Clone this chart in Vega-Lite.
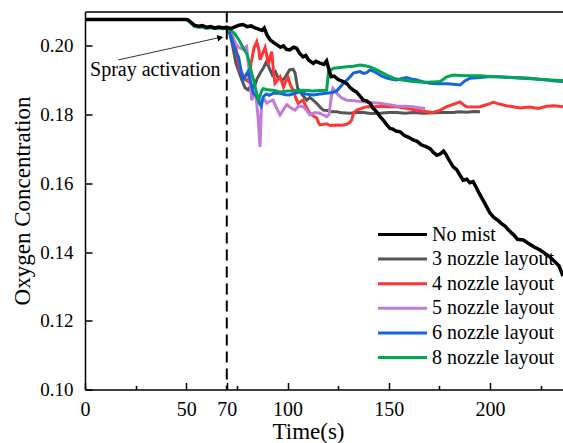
{
"$schema": "https://vega.github.io/schema/vega-lite/v6.json",
"width": 478, "height": 378,
"autosize": {"type": "none"},
"padding": {"left": 85, "top": 11.5, "right": 0, "bottom": 53.5},
"background": "white",
"config": {
 "view": {"stroke": null},
 "font": "Times New Roman, Liberation Serif, serif",
 "axis": {"domainColor": "black", "domainWidth": 1.5, "tickColor": "black", "tickWidth": 1.5, "labelColor": "black", "titleColor": "black", "labelFont": "Times New Roman, Liberation Serif, serif", "titleFont": "Times New Roman, Liberation Serif, serif", "grid": false, "titleFontWeight": "normal", "labelFontWeight": "normal"},
 "legend": {"labelFont": "Times New Roman, Liberation Serif, serif", "labelFontWeight": "normal"}
},
"data": {"values": [
{"s":"No mist","t":0,"o":0.2077},{"s":"No mist","t":50,"o":0.2077},{"s":"No mist","t":51,"o":0.2075},{"s":"No mist","t":52.5,"o":0.2068},{"s":"No mist","t":54,"o":0.206},{"s":"No mist","t":56,"o":0.2057},{"s":"No mist","t":58,"o":0.2059},{"s":"No mist","t":60,"o":0.2054},{"s":"No mist","t":62,"o":0.2056},{"s":"No mist","t":64,"o":0.2052},{"s":"No mist","t":66,"o":0.2055},{"s":"No mist","t":68,"o":0.2053},{"s":"No mist","t":70,"o":0.2054},{"s":"No mist","t":72,"o":0.205},{"s":"No mist","t":74,"o":0.2055},{"s":"No mist","t":76,"o":0.206},{"s":"No mist","t":78,"o":0.2062},{"s":"No mist","t":80,"o":0.2056},{"s":"No mist","t":82,"o":0.2058},{"s":"No mist","t":84,"o":0.2052},{"s":"No mist","t":86,"o":0.2048},{"s":"No mist","t":87.5,"o":0.2045},{"s":"No mist","t":88.5,"o":0.2052},{"s":"No mist","t":90,"o":0.203},{"s":"No mist","t":91.5,"o":0.2017},{"s":"No mist","t":93,"o":0.201},{"s":"No mist","t":95,"o":0.2002},{"s":"No mist","t":96.5,"o":0.1996},{"s":"No mist","t":98,"o":0.2},{"s":"No mist","t":99.5,"o":0.199},{"s":"No mist","t":101,"o":0.1988},{"s":"No mist","t":103,"o":0.1996},{"s":"No mist","t":104.5,"o":0.1993},{"s":"No mist","t":106,"o":0.1978},{"s":"No mist","t":107.7,"o":0.1968},{"s":"No mist","t":109,"o":0.1972},{"s":"No mist","t":110.5,"o":0.1958},{"s":"No mist","t":112.7,"o":0.1949},{"s":"No mist","t":114,"o":0.1955},{"s":"No mist","t":116,"o":0.195},{"s":"No mist","t":118,"o":0.1946},{"s":"No mist","t":119.3,"o":0.1956},{"s":"No mist","t":120.5,"o":0.193},{"s":"No mist","t":121.5,"o":0.191},{"s":"No mist","t":123,"o":0.1912},{"s":"No mist","t":125,"o":0.1902},{"s":"No mist","t":127.5,"o":0.1896},{"s":"No mist","t":129.5,"o":0.1889},{"s":"No mist","t":131,"o":0.1878},{"s":"No mist","t":132.5,"o":0.1871},{"s":"No mist","t":134,"o":0.1866},{"s":"No mist","t":136,"o":0.1852},{"s":"No mist","t":137.4,"o":0.1842},{"s":"No mist","t":139,"o":0.184},{"s":"No mist","t":140.7,"o":0.1833},{"s":"No mist","t":142,"o":0.182},{"s":"No mist","t":144,"o":0.1808},{"s":"No mist","t":145.7,"o":0.1794},{"s":"No mist","t":147.5,"o":0.1782},{"s":"No mist","t":149,"o":0.177},{"s":"No mist","t":150.6,"o":0.176},{"s":"No mist","t":152,"o":0.1758},{"s":"No mist","t":153.5,"o":0.1752},{"s":"No mist","t":155.6,"o":0.175},{"s":"No mist","t":157.5,"o":0.174},{"s":"No mist","t":160,"o":0.1733},{"s":"No mist","t":162,"o":0.1726},{"s":"No mist","t":164,"o":0.1722},{"s":"No mist","t":166,"o":0.1712},{"s":"No mist","t":168.7,"o":0.1706},{"s":"No mist","t":170.5,"o":0.17},{"s":"No mist","t":172,"o":0.169},{"s":"No mist","t":173.7,"o":0.1682},{"s":"No mist","t":175.5,"o":0.1686},{"s":"No mist","t":177,"o":0.1694},{"s":"No mist","t":178,"o":0.1686},{"s":"No mist","t":180,"o":0.1665},{"s":"No mist","t":181.8,"o":0.1648},{"s":"No mist","t":183.5,"o":0.164},{"s":"No mist","t":185,"o":0.1625},{"s":"No mist","t":186.7,"o":0.1609},{"s":"No mist","t":188.5,"o":0.1612},{"s":"No mist","t":190,"o":0.1602},{"s":"No mist","t":191.6,"o":0.1605},{"s":"No mist","t":193,"o":0.159},{"s":"No mist","t":194.5,"o":0.1572},{"s":"No mist","t":196.5,"o":0.1551},{"s":"No mist","t":198,"o":0.1535},{"s":"No mist","t":200,"o":0.1513},{"s":"No mist","t":202,"o":0.15},{"s":"No mist","t":204,"o":0.1492},{"s":"No mist","t":205.5,"o":0.1483},{"s":"No mist","t":207.5,"o":0.1475},{"s":"No mist","t":209,"o":0.1465},{"s":"No mist","t":210.7,"o":0.1455},{"s":"No mist","t":212,"o":0.1448},{"s":"No mist","t":213.5,"o":0.1437},{"s":"No mist","t":216.4,"o":0.1435},{"s":"No mist","t":219,"o":0.1425},{"s":"No mist","t":222,"o":0.1414},{"s":"No mist","t":224.7,"o":0.1406},{"s":"No mist","t":227,"o":0.1396},{"s":"No mist","t":229.6,"o":0.1385},{"s":"No mist","t":232,"o":0.1372},{"s":"No mist","t":234,"o":0.136},{"s":"No mist","t":235,"o":0.1345},{"s":"No mist","t":236,"o":0.133},
{"s":"3 nozzle layout","t":70,"o":0.2054},{"s":"3 nozzle layout","t":71.5,"o":0.2035},{"s":"3 nozzle layout","t":73,"o":0.1997},{"s":"3 nozzle layout","t":74.5,"o":0.195},{"s":"3 nozzle layout","t":76,"o":0.1925},{"s":"3 nozzle layout","t":77.5,"o":0.19},{"s":"3 nozzle layout","t":79,"o":0.1878},{"s":"3 nozzle layout","t":80.5,"o":0.1872},{"s":"3 nozzle layout","t":82,"o":0.1885},{"s":"3 nozzle layout","t":83.5,"o":0.188},{"s":"3 nozzle layout","t":85,"o":0.1905},{"s":"3 nozzle layout","t":86.5,"o":0.1921},{"s":"3 nozzle layout","t":88,"o":0.1935},{"s":"3 nozzle layout","t":89.7,"o":0.1955},{"s":"3 nozzle layout","t":91,"o":0.1935},{"s":"3 nozzle layout","t":92.5,"o":0.1915},{"s":"3 nozzle layout","t":94,"o":0.1925},{"s":"3 nozzle layout","t":95.5,"o":0.1905},{"s":"3 nozzle layout","t":97.9,"o":0.1901},{"s":"3 nozzle layout","t":99.5,"o":0.1915},{"s":"3 nozzle layout","t":101,"o":0.193},{"s":"3 nozzle layout","t":102.7,"o":0.1932},{"s":"3 nozzle layout","t":103.7,"o":0.1922},{"s":"3 nozzle layout","t":105,"o":0.1877},{"s":"3 nozzle layout","t":107,"o":0.186},{"s":"3 nozzle layout","t":109.5,"o":0.1842},{"s":"3 nozzle layout","t":111,"o":0.185},{"s":"3 nozzle layout","t":112,"o":0.1845},{"s":"3 nozzle layout","t":114.4,"o":0.1833},{"s":"3 nozzle layout","t":116,"o":0.1822},{"s":"3 nozzle layout","t":117.6,"o":0.1813},{"s":"3 nozzle layout","t":120,"o":0.1812},{"s":"3 nozzle layout","t":122,"o":0.1808},{"s":"3 nozzle layout","t":124.3,"o":0.1808},{"s":"3 nozzle layout","t":127,"o":0.1805},{"s":"3 nozzle layout","t":130.9,"o":0.1804},{"s":"3 nozzle layout","t":134,"o":0.1806},{"s":"3 nozzle layout","t":137.4,"o":0.1806},{"s":"3 nozzle layout","t":141,"o":0.1803},{"s":"3 nozzle layout","t":145.7,"o":0.1804},{"s":"3 nozzle layout","t":150,"o":0.1806},{"s":"3 nozzle layout","t":153.9,"o":0.1806},{"s":"3 nozzle layout","t":158,"o":0.1804},{"s":"3 nozzle layout","t":162,"o":0.1806},{"s":"3 nozzle layout","t":167,"o":0.1804},{"s":"3 nozzle layout","t":171.9,"o":0.1805},{"s":"3 nozzle layout","t":176,"o":0.1806},{"s":"3 nozzle layout","t":181.8,"o":0.1806},{"s":"3 nozzle layout","t":185,"o":0.1808},{"s":"3 nozzle layout","t":188.5,"o":0.1807},{"s":"3 nozzle layout","t":192,"o":0.1809},{"s":"3 nozzle layout","t":195,"o":0.1808},
{"s":"4 nozzle layout","t":70,"o":0.2054},{"s":"4 nozzle layout","t":72,"o":0.204},{"s":"4 nozzle layout","t":74,"o":0.201},{"s":"4 nozzle layout","t":75.5,"o":0.196},{"s":"4 nozzle layout","t":76.5,"o":0.193},{"s":"4 nozzle layout","t":78,"o":0.1915},{"s":"4 nozzle layout","t":79.5,"o":0.19},{"s":"4 nozzle layout","t":80.6,"o":0.1896},{"s":"4 nozzle layout","t":82,"o":0.195},{"s":"4 nozzle layout","t":83.5,"o":0.1995},{"s":"4 nozzle layout","t":84.8,"o":0.2012},{"s":"4 nozzle layout","t":85.8,"o":0.199},{"s":"4 nozzle layout","t":86.4,"o":0.1959},{"s":"4 nozzle layout","t":87.5,"o":0.1975},{"s":"4 nozzle layout","t":88.9,"o":0.1995},{"s":"4 nozzle layout","t":90,"o":0.1965},{"s":"4 nozzle layout","t":90.5,"o":0.1945},{"s":"4 nozzle layout","t":91.5,"o":0.197},{"s":"4 nozzle layout","t":92.2,"o":0.1983},{"s":"4 nozzle layout","t":93,"o":0.193},{"s":"4 nozzle layout","t":93.8,"o":0.1891},{"s":"4 nozzle layout","t":95,"o":0.19},{"s":"4 nozzle layout","t":96.3,"o":0.191},{"s":"4 nozzle layout","t":97.2,"o":0.1895},{"s":"4 nozzle layout","t":98,"o":0.188},{"s":"4 nozzle layout","t":99,"o":0.1895},{"s":"4 nozzle layout","t":100.3,"o":0.1907},{"s":"4 nozzle layout","t":101.5,"o":0.1885},{"s":"4 nozzle layout","t":102.8,"o":0.1871},{"s":"4 nozzle layout","t":104,"o":0.185},{"s":"4 nozzle layout","t":105.2,"o":0.1833},{"s":"4 nozzle layout","t":106.5,"o":0.1838},{"s":"4 nozzle layout","t":107.7,"o":0.1842},{"s":"4 nozzle layout","t":109,"o":0.1825},{"s":"4 nozzle layout","t":111,"o":0.1804},{"s":"4 nozzle layout","t":113,"o":0.1795},{"s":"4 nozzle layout","t":114.4,"o":0.179},{"s":"4 nozzle layout","t":115.2,"o":0.1778},{"s":"4 nozzle layout","t":116,"o":0.177},{"s":"4 nozzle layout","t":118,"o":0.1772},{"s":"4 nozzle layout","t":119.3,"o":0.1773},{"s":"4 nozzle layout","t":121,"o":0.1768},{"s":"4 nozzle layout","t":124.3,"o":0.177},{"s":"4 nozzle layout","t":127,"o":0.1769},{"s":"4 nozzle layout","t":129.2,"o":0.1772},{"s":"4 nozzle layout","t":130.5,"o":0.1776},{"s":"4 nozzle layout","t":131.7,"o":0.1784},{"s":"4 nozzle layout","t":132.5,"o":0.1804},{"s":"4 nozzle layout","t":134.2,"o":0.1813},{"s":"4 nozzle layout","t":136.5,"o":0.1818},{"s":"4 nozzle layout","t":139.1,"o":0.1823},{"s":"4 nozzle layout","t":142,"o":0.1822},{"s":"4 nozzle layout","t":145.7,"o":0.1824},{"s":"4 nozzle layout","t":150,"o":0.1823},{"s":"4 nozzle layout","t":153.9,"o":0.1823},{"s":"4 nozzle layout","t":158,"o":0.1819},{"s":"4 nozzle layout","t":162,"o":0.1815},{"s":"4 nozzle layout","t":167,"o":0.181},{"s":"4 nozzle layout","t":171.9,"o":0.1806},{"s":"4 nozzle layout","t":175,"o":0.1812},{"s":"4 nozzle layout","t":178.6,"o":0.1823},{"s":"4 nozzle layout","t":182,"o":0.183},{"s":"4 nozzle layout","t":185.2,"o":0.1837},{"s":"4 nozzle layout","t":187,"o":0.1828},{"s":"4 nozzle layout","t":188.5,"o":0.1823},{"s":"4 nozzle layout","t":192,"o":0.1822},{"s":"4 nozzle layout","t":195,"o":0.1823},{"s":"4 nozzle layout","t":199,"o":0.183},{"s":"4 nozzle layout","t":201.6,"o":0.1836},{"s":"4 nozzle layout","t":204,"o":0.1832},{"s":"4 nozzle layout","t":208,"o":0.1826},{"s":"4 nozzle layout","t":211.5,"o":0.1823},{"s":"4 nozzle layout","t":214.8,"o":0.1819},{"s":"4 nozzle layout","t":219.7,"o":0.1822},{"s":"4 nozzle layout","t":223.7,"o":0.1818},{"s":"4 nozzle layout","t":228,"o":0.1824},{"s":"4 nozzle layout","t":231,"o":0.1826},{"s":"4 nozzle layout","t":233,"o":0.1825},{"s":"4 nozzle layout","t":236,"o":0.1823},
{"s":"5 nozzle layout","t":70,"o":0.2054},{"s":"5 nozzle layout","t":72,"o":0.2035},{"s":"5 nozzle layout","t":74,"o":0.201},{"s":"5 nozzle layout","t":76,"o":0.1995},{"s":"5 nozzle layout","t":78,"o":0.199},{"s":"5 nozzle layout","t":79.8,"o":0.1998},{"s":"5 nozzle layout","t":81,"o":0.193},{"s":"5 nozzle layout","t":82.3,"o":0.1842},{"s":"5 nozzle layout","t":83.5,"o":0.186},{"s":"5 nozzle layout","t":84.5,"o":0.185},{"s":"5 nozzle layout","t":85.5,"o":0.179},{"s":"5 nozzle layout","t":86.4,"o":0.1706},{"s":"5 nozzle layout","t":87.2,"o":0.1842},{"s":"5 nozzle layout","t":88.5,"o":0.1845},{"s":"5 nozzle layout","t":89.7,"o":0.1833},{"s":"5 nozzle layout","t":91,"o":0.1838},{"s":"5 nozzle layout","t":92.9,"o":0.1842},{"s":"5 nozzle layout","t":94.5,"o":0.182},{"s":"5 nozzle layout","t":96.3,"o":0.1799},{"s":"5 nozzle layout","t":98,"o":0.1815},{"s":"5 nozzle layout","t":99.6,"o":0.1829},{"s":"5 nozzle layout","t":101.5,"o":0.182},{"s":"5 nozzle layout","t":103.7,"o":0.1813},{"s":"5 nozzle layout","t":105.5,"o":0.1825},{"s":"5 nozzle layout","t":107.7,"o":0.1823},{"s":"5 nozzle layout","t":109.5,"o":0.1812},{"s":"5 nozzle layout","t":111,"o":0.1799},{"s":"5 nozzle layout","t":113.5,"o":0.1806},{"s":"5 nozzle layout","t":116,"o":0.1804},{"s":"5 nozzle layout","t":118,"o":0.1798},{"s":"5 nozzle layout","t":119.3,"o":0.1794},{"s":"5 nozzle layout","t":120.5,"o":0.18},{"s":"5 nozzle layout","t":121.6,"o":0.1852},{"s":"5 nozzle layout","t":122.4,"o":0.1876},{"s":"5 nozzle layout","t":123.5,"o":0.1868},{"s":"5 nozzle layout","t":125,"o":0.1857},{"s":"5 nozzle layout","t":127,"o":0.1848},{"s":"5 nozzle layout","t":129.2,"o":0.1842},{"s":"5 nozzle layout","t":133,"o":0.184},{"s":"5 nozzle layout","t":137.4,"o":0.1837},{"s":"5 nozzle layout","t":141,"o":0.1835},{"s":"5 nozzle layout","t":145.7,"o":0.1833},{"s":"5 nozzle layout","t":150,"o":0.1829},{"s":"5 nozzle layout","t":153.9,"o":0.1825},{"s":"5 nozzle layout","t":158,"o":0.1824},{"s":"5 nozzle layout","t":162,"o":0.1823},{"s":"5 nozzle layout","t":165,"o":0.182},{"s":"5 nozzle layout","t":167.9,"o":0.1818},
{"s":"6 nozzle layout","t":70,"o":0.2054},{"s":"6 nozzle layout","t":72,"o":0.203},{"s":"6 nozzle layout","t":74,"o":0.199},{"s":"6 nozzle layout","t":75.8,"o":0.1968},{"s":"6 nozzle layout","t":77,"o":0.193},{"s":"6 nozzle layout","t":78.2,"o":0.1901},{"s":"6 nozzle layout","t":79.5,"o":0.1915},{"s":"6 nozzle layout","t":80.5,"o":0.1925},{"s":"6 nozzle layout","t":82,"o":0.189},{"s":"6 nozzle layout","t":83.1,"o":0.1862},{"s":"6 nozzle layout","t":84.5,"o":0.1855},{"s":"6 nozzle layout","t":86,"o":0.1835},{"s":"6 nozzle layout","t":87,"o":0.1825},{"s":"6 nozzle layout","t":88,"o":0.1852},{"s":"6 nozzle layout","t":89.5,"o":0.186},{"s":"6 nozzle layout","t":91,"o":0.1856},{"s":"6 nozzle layout","t":93,"o":0.1862},{"s":"6 nozzle layout","t":96.3,"o":0.1862},{"s":"6 nozzle layout","t":99,"o":0.1858},{"s":"6 nozzle layout","t":101,"o":0.1857},{"s":"6 nozzle layout","t":103.5,"o":0.1862},{"s":"6 nozzle layout","t":106,"o":0.1866},{"s":"6 nozzle layout","t":109,"o":0.186},{"s":"6 nozzle layout","t":112.7,"o":0.1857},{"s":"6 nozzle layout","t":116,"o":0.186},{"s":"6 nozzle layout","t":119.3,"o":0.1862},{"s":"6 nozzle layout","t":122,"o":0.1864},{"s":"6 nozzle layout","t":124.3,"o":0.1869},{"s":"6 nozzle layout","t":126,"o":0.188},{"s":"6 nozzle layout","t":127.6,"o":0.1891},{"s":"6 nozzle layout","t":129.3,"o":0.19},{"s":"6 nozzle layout","t":130.9,"o":0.191},{"s":"6 nozzle layout","t":132.5,"o":0.1921},{"s":"6 nozzle layout","t":134,"o":0.1923},{"s":"6 nozzle layout","t":135.8,"o":0.1925},{"s":"6 nozzle layout","t":137.5,"o":0.192},{"s":"6 nozzle layout","t":139.1,"o":0.1922},{"s":"6 nozzle layout","t":140.7,"o":0.193},{"s":"6 nozzle layout","t":142.5,"o":0.1926},{"s":"6 nozzle layout","t":144,"o":0.1921},{"s":"6 nozzle layout","t":146.5,"o":0.1912},{"s":"6 nozzle layout","t":149,"o":0.1906},{"s":"6 nozzle layout","t":151.5,"o":0.1903},{"s":"6 nozzle layout","t":153.9,"o":0.1901},{"s":"6 nozzle layout","t":156.5,"o":0.1905},{"s":"6 nozzle layout","t":158.8,"o":0.1908},{"s":"6 nozzle layout","t":161,"o":0.1904},{"s":"6 nozzle layout","t":163.8,"o":0.1901},{"s":"6 nozzle layout","t":167,"o":0.1895},{"s":"6 nozzle layout","t":170.4,"o":0.1891},{"s":"6 nozzle layout","t":174.5,"o":0.189},{"s":"6 nozzle layout","t":178.6,"o":0.189},{"s":"6 nozzle layout","t":182,"o":0.1888},{"s":"6 nozzle layout","t":185.2,"o":0.1886},{"s":"6 nozzle layout","t":187.5,"o":0.1898},{"s":"6 nozzle layout","t":190.1,"o":0.1906},{"s":"6 nozzle layout","t":195,"o":0.1908},{"s":"6 nozzle layout","t":199,"o":0.191},{"s":"6 nozzle layout","t":203.3,"o":0.191},{"s":"6 nozzle layout","t":207.5,"o":0.1909},{"s":"6 nozzle layout","t":211.5,"o":0.1908},{"s":"6 nozzle layout","t":215.5,"o":0.1907},{"s":"6 nozzle layout","t":219.7,"o":0.1906},{"s":"6 nozzle layout","t":224,"o":0.1903},{"s":"6 nozzle layout","t":228,"o":0.1901},{"s":"6 nozzle layout","t":232,"o":0.1898},{"s":"6 nozzle layout","t":236,"o":0.1896},
{"s":"8 nozzle layout","t":0,"o":0.2077},{"s":"8 nozzle layout","t":50,"o":0.2077},{"s":"8 nozzle layout","t":51,"o":0.2073},{"s":"8 nozzle layout","t":52.5,"o":0.2065},{"s":"8 nozzle layout","t":54,"o":0.2057},{"s":"8 nozzle layout","t":56,"o":0.2054},{"s":"8 nozzle layout","t":58,"o":0.2055},{"s":"8 nozzle layout","t":60,"o":0.2051},{"s":"8 nozzle layout","t":62,"o":0.2053},{"s":"8 nozzle layout","t":64,"o":0.205},{"s":"8 nozzle layout","t":66,"o":0.2051},{"s":"8 nozzle layout","t":68,"o":0.205},{"s":"8 nozzle layout","t":70,"o":0.205},{"s":"8 nozzle layout","t":72,"o":0.2045},{"s":"8 nozzle layout","t":74,"o":0.2035},{"s":"8 nozzle layout","t":76,"o":0.2017},{"s":"8 nozzle layout","t":78,"o":0.1995},{"s":"8 nozzle layout","t":79.8,"o":0.1978},{"s":"8 nozzle layout","t":81,"o":0.1955},{"s":"8 nozzle layout","t":82.3,"o":0.192},{"s":"8 nozzle layout","t":83.5,"o":0.1895},{"s":"8 nozzle layout","t":84.8,"o":0.186},{"s":"8 nozzle layout","t":85.6,"o":0.1842},{"s":"8 nozzle layout","t":86.4,"o":0.1855},{"s":"8 nozzle layout","t":87.2,"o":0.1868},{"s":"8 nozzle layout","t":88,"o":0.1876},{"s":"8 nozzle layout","t":90,"o":0.1872},{"s":"8 nozzle layout","t":92.9,"o":0.1871},{"s":"8 nozzle layout","t":96.3,"o":0.1866},{"s":"8 nozzle layout","t":99,"o":0.1868},{"s":"8 nozzle layout","t":101,"o":0.1869},{"s":"8 nozzle layout","t":104,"o":0.187},{"s":"8 nozzle layout","t":107.7,"o":0.1871},{"s":"8 nozzle layout","t":110,"o":0.187},{"s":"8 nozzle layout","t":112.7,"o":0.1869},{"s":"8 nozzle layout","t":116,"o":0.187},{"s":"8 nozzle layout","t":119.3,"o":0.1871},{"s":"8 nozzle layout","t":119.8,"o":0.19},{"s":"8 nozzle layout","t":120.2,"o":0.1925},{"s":"8 nozzle layout","t":122.7,"o":0.1935},{"s":"8 nozzle layout","t":126,"o":0.1937},{"s":"8 nozzle layout","t":129.2,"o":0.1939},{"s":"8 nozzle layout","t":132.5,"o":0.1941},{"s":"8 nozzle layout","t":135.8,"o":0.1944},{"s":"8 nozzle layout","t":138.3,"o":0.1942},{"s":"8 nozzle layout","t":140.7,"o":0.1939},{"s":"8 nozzle layout","t":143,"o":0.1933},{"s":"8 nozzle layout","t":145.7,"o":0.1925},{"s":"8 nozzle layout","t":149,"o":0.1915},{"s":"8 nozzle layout","t":152.3,"o":0.1906},{"s":"8 nozzle layout","t":155,"o":0.1902},{"s":"8 nozzle layout","t":158.5,"o":0.1899},{"s":"8 nozzle layout","t":162,"o":0.1896},{"s":"8 nozzle layout","t":165,"o":0.1895},{"s":"8 nozzle layout","t":168.7,"o":0.1894},{"s":"8 nozzle layout","t":172,"o":0.1895},{"s":"8 nozzle layout","t":175.3,"o":0.1896},{"s":"8 nozzle layout","t":177,"o":0.1903},{"s":"8 nozzle layout","t":178.6,"o":0.191},{"s":"8 nozzle layout","t":181.8,"o":0.1915},{"s":"8 nozzle layout","t":185,"o":0.1914},{"s":"8 nozzle layout","t":188.5,"o":0.1913},{"s":"8 nozzle layout","t":195,"o":0.1913},{"s":"8 nozzle layout","t":200,"o":0.1911},{"s":"8 nozzle layout","t":204.9,"o":0.191},{"s":"8 nozzle layout","t":210,"o":0.1908},{"s":"8 nozzle layout","t":214.8,"o":0.1906},{"s":"8 nozzle layout","t":220,"o":0.1904},{"s":"8 nozzle layout","t":224.7,"o":0.1903},{"s":"8 nozzle layout","t":230,"o":0.1901},{"s":"8 nozzle layout","t":236,"o":0.1899}
]},
"layer": [
 {"layer": [
  {"transform": [{"filter": "datum.s != 'No mist'"}],
   "mark": {"type": "line", "strokeWidth": 3, "clip": true},
   "encoding": {
    "x": {"field": "t", "type": "quantitative", "scale": {"domain": [0, 236], "nice": false, "zero": false},
      "axis": {"orient": "bottom", "title": "Time(s)", "titleFontSize": 23, "titleX": 223, "titleY": 48.5, "titleBaseline": "alphabetic", "titleAlign": "center", "values": [0, 25, 50, 70, 75, 100, 125, 150, 175, 200, 225], "labelExpr": "(datum.value % 50 == 0 || datum.value == 70) ? datum.label : ''", "tickSize": {"condition": {"test": "datum.value % 50 == 0 || datum.value == 70", "value": -7}, "value": -4}, "labelPadding": 17, "labelFontSize": 20, "labelFlush": false, "labelOverlap": false}},
    "y": {"field": "o", "type": "quantitative", "scale": {"domain": [0.1, 0.21], "nice": false, "zero": false},
      "axis": {"title": "Oxygen Concentration", "titleFontSize": 23, "titleX": -56, "titleY": 189, "titleAngle": -90, "titleBaseline": "alphabetic", "titleAlign": "center", "values": [0.1, 0.11, 0.12, 0.13, 0.14, 0.15, 0.16, 0.17, 0.18, 0.19, 0.2], "labelExpr": "round(datum.value * 100) % 2 == 0 ? format(datum.value, '.2f') : ''", "tickSize": {"condition": {"test": "round(datum.value * 100) % 2 == 0", "value": -7}, "value": -4}, "labelPadding": 19, "labelFontSize": 19, "labelFlush": false, "labelOverlap": false}},
    "color": {"field": "s", "type": "nominal",
      "scale": {"domain": ["No mist", "3 nozzle layout", "4 nozzle layout", "5 nozzle layout", "6 nozzle layout", "8 nozzle layout"], "range": ["#000000", "#555555", "#ff3535", "#c07cd8", "#1464e2", "#00a651"]},
      "legend": {"orient": "none", "legendX": 283, "legendY": 213, "title": null, "symbolType": "M0,0H10", "symbolSize": 96, "symbolStrokeWidth": 3, "labelFontSize": 20, "labelFont": "Times New Roman, Liberation Serif, serif", "labelFontWeight": "normal", "labelColor": "black", "labelOffset": 44, "rowPadding": 4.6, "padding": 0, "labelLimit": 0}}
   }},
  {"transform": [{"filter": "datum.s == 'No mist'"}],
   "mark": {"type": "line", "strokeWidth": 3.5, "clip": true},
   "encoding": {"x": {"field": "t", "type": "quantitative"}, "y": {"field": "o", "type": "quantitative"}, "color": {"field": "s", "type": "nominal"}}},
  {"data": {"values": [{}]},
   "mark": {"type": "rule", "strokeDash": [11, 6], "strokeWidth": 2, "color": "black"},
   "encoding": {"x": {"datum": 70, "type": "quantitative"}}},
  {"data": {"values": [{}]},
   "mark": {"type": "text", "text": "Spray activation", "font": "Times New Roman, Liberation Serif, serif", "fontSize": 20, "align": "left", "baseline": "middle", "color": "black"},
   "encoding": {"x": {"datum": 2.5, "type": "quantitative"}, "y": {"datum": 0.193, "type": "quantitative"}}},
  {"data": {"values": [{}]},
   "mark": {"type": "rule", "strokeWidth": 1, "color": "#333333"},
   "encoding": {"x": {"datum": 16.4, "type": "quantitative"}, "y": {"datum": 0.1959, "type": "quantitative"}, "x2": {"datum": 67}, "y2": {"datum": 0.2025}}},
  {"data": {"values": [{}]},
   "mark": {"type": "point", "shape": "triangle-right", "filled": true, "color": "black", "size": 45, "angle": 347.4, "opacity": 1},
   "encoding": {"x": {"datum": 66.8, "type": "quantitative"}, "y": {"datum": 0.2024, "type": "quantitative"}}}
 ]},
 {"data": {"values": [{}]},
  "mark": {"type": "rule", "opacity": 0},
  "encoding": {"x": {"datum": 0, "type": "quantitative", "axis": {"orient": "top", "labels": false, "ticks": false, "title": null, "domain": true}}}}
],
"resolve": {"axis": {"x": "independent"}}
}
